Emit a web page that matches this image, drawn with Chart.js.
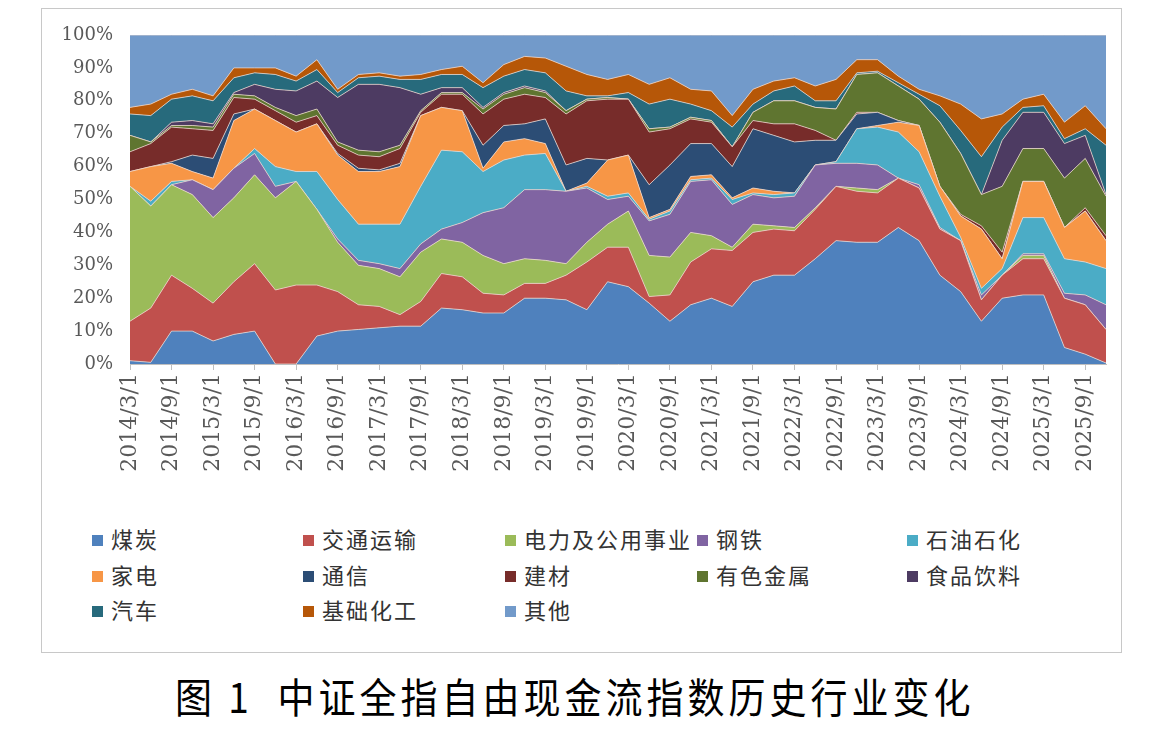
<!DOCTYPE html>
<html>
<head>
<meta charset="utf-8">
<script src="https://cdn.jsdelivr.net/npm/chart.js@4.4.0/dist/chart.umd.min.js"></script>
<style>
    body {
        margin: 0;
        width: 1168px;
        height: 729px;
        background: #ffffff;
        position: relative;
        overflow: hidden;
        font-family: "Noto Sans CJK SC", sans-serif;
    }
    #frame {
        position: absolute;
        left: 41px;
        top: 8px;
        width: 1079px;
        height: 643px;
        border: 1px solid #c8c8c8;
    }
    #wrap {
        position: absolute;
        left: 0;
        top: 0;
        width: 1168px;
        height: 500px;
    }
    .item {
        position: absolute;
        font-size: 22px;
        line-height: 26px;
        color: #333333;
        white-space: nowrap;
        letter-spacing: 2px;
    }
    .item i {
        display: inline-block;
        width: 11px;
        height: 11px;
        margin-right: 8px;
        vertical-align: 2px;
    }
    #title {
        position: absolute;
        left: 175px;
        top: 668px;
        font-size: 37px;
        letter-spacing: 4px;
        color: #000000;
        white-space: pre;
        transform: scaleY(1.12);
    }
</style>
</head>
<body>
<div id="frame"></div>
<div id="wrap"><canvas id="industryChart"></canvas></div>
<div id="legend"></div>
<div id="title">图 1  中证全指自由现金流指数历史行业变化</div>

<script>
// =========================================
// Data (quarterly weights, %)
// =========================================

const dates = [
    "2014/3/1", "2014/6/1", "2014/9/1", "2014/12/1",
    "2015/3/1", "2015/6/1", "2015/9/1", "2015/12/1",
    "2016/3/1", "2016/6/1", "2016/9/1", "2016/12/1",
    "2017/3/1", "2017/6/1", "2017/9/1", "2017/12/1",
    "2018/3/1", "2018/6/1", "2018/9/1", "2018/12/1",
    "2019/3/1", "2019/6/1", "2019/9/1", "2019/12/1",
    "2020/3/1", "2020/6/1", "2020/9/1", "2020/12/1",
    "2021/3/1", "2021/6/1", "2021/9/1", "2021/12/1",
    "2022/3/1", "2022/6/1", "2022/9/1", "2022/12/1",
    "2023/3/1", "2023/6/1", "2023/9/1", "2023/12/1",
    "2024/3/1", "2024/6/1", "2024/9/1", "2024/12/1",
    "2025/3/1", "2025/6/1", "2025/9/1", "2025/12/1"
];

const yTicks = [0, 10, 20, 30, 40, 50, 60, 70, 80, 90, 100];

const coal = [1, 0.5, 10, 10, 7, 9, 10, 0, 0, 8.5, 10, 10.5, 11, 11.5, 11.5, 17, 16.5, 15.5, 15.5, 20, 20, 19.5, 16.5, 25, 23.5, 18.5, 13, 18, 20, 17.5, 25, 27, 27, 32, 37.5, 37, 37, 41.5, 37.5, 27, 22, 13, 20, 21, 21, 5, 3, 0.3];
const transport = [12, 16.5, 17, 13, 11.5, 16, 20.5, 22.5, 24, 15.5, 12, 7.5, 6.5, 3.5, 7.5, 10.5, 10, 6, 5.5, 4.5, 4.5, 7.5, 14.5, 10.5, 12, 2, 8, 13, 15, 17, 15, 14, 13.5, 15, 16.5, 15.5, 15, 15, 16, 14, 15.5, 6.5, 7, 11, 11, 15, 15, 10.2];
const utilities = [41, 31, 27.5, 28.5, 26, 25.5, 27, 28, 31.5, 23, 15, 12, 11.5, 11.5, 15, 10.5, 10.5, 11.5, 9.5, 7.5, 7, 3.5, 6, 7, 11, 12.5, 11.5, 9, 4, 1, 2.5, 1, 1, 0.5, 0, 1, 1, 0, 0, 0, 0, 0, 0, 1, 1, 0, 0, 0];
const steel = [0, 0, 0, 4.5, 8.5, 9, 6.5, 3.5, 0, 0, 1, 1.5, 1.5, 2.5, 2.5, 3, 6, 13, 17, 21, 21.5, 22, 16.5, 7.5, 4.5, 10.5, 13, 15.5, 17, 13, 9, 8.5, 9.5, 13, 7, 7.5, 7.5, 0, 1, 0.5, 0, 1.5, 0, 0.5, 0.5, 1.5, 3, 7.5];
const petro = [0, 1.5, 1, 0, 0, 0, 1.5, 6, 3, 11.5, 12, 11, 12, 13.5, 17.5, 24, 21.5, 12.5, 14.5, 10.5, 11, 0, 0.5, 1, 1, 0.5, 1, 0.5, 0.5, 1.5, 0.5, 1, 1, 0, 0.5, 10.5, 11.5, 14, 10, 9.5, 1, 2, 2, 11, 11, 10.5, 10, 11];
const appliances = [4.5, 10.5, 5.5, 2.5, 3.5, 14.5, 12, 14, 12, 14.5, 13.5, 16, 16, 17.5, 21.5, 13, 12.5, 1, 5.5, 5, 3, 0, 1, 11, 11.5, 0.5, 0.5, 1, 1, 0.5, 1.5, 1, 0, 0, 0, 0, 0.5, 3, 8, 3, 6.5, 18, 3, 11, 11, 9.5, 15.5, 8.5];
const telecom = [0, 0, 0.5, 5, 6, 2, 0, 0, 0, 0, 0.5, 1, 0.5, 1, 0, 0, 0, 7, 5, 4.5, 7.5, 8, 7.5, 0, 0, 10, 13.5, 10, 9.5, 9.5, 18, 17, 15.5, 7.5, 6.5, 4.5, 4, 0.5, 0, 0, 0, 0, 0, 0, 0, 0, 0, 0];
const buildMat = [6, 7, 10.5, 8, 8.5, 5, 3, 3, 3, 2.5, 2.5, 4, 4, 4.5, 1, 4, 5, 9.5, 8, 9, 6.5, 15.5, 17.5, 18.5, 17, 16, 11, 7.5, 6.5, 6, 2.5, 3.5, 5.5, 3, 0, 0.5, 0, 0, 0, 0, 0.5, 1, 2, 0, 0, 0, 1, 1.5];
const metals = [5, 0.5, 0.5, 1, 1, 1, 1, 1, 2, 2, 1, 1.5, 1.5, 1, 0.5, 0.5, 0.5, 1.5, 1.5, 2, 1.5, 1, 0.5, 0.5, 0, 1, 0.5, 0.5, 0.5, 0, 2.5, 7, 7, 7, 9.5, 11.5, 12, 10.5, 8, 19.5, 18.5, 9.5, 20, 10, 10, 15, 15, 12];
const food = [0, 0, 1, 1.5, 1, 0.5, 3.5, 5.5, 7.5, 8.5, 13.5, 20, 20.5, 17.5, 5, 1.5, 1.5, 0.5, 0.5, 0.5, 0.5, 0, 0, 0, 0, 0, 0, 0, 0, 0, 0, 0, 0, 0, 0, 0, 0, 0, 0, 0, 0, 0, 14, 11, 11, 10.5, 7, 0.5];
const autos = [6.5, 8, 7, 7.5, 7, 4.5, 3.5, 4.5, 3, 3.5, 1.5, 2, 2.5, 2.5, 4.5, 4, 4, 6, 5, 5, 5.5, 6, 1, 0.5, 2, 7.5, 8.5, 4, 3, 6, 2.5, 3, 4.5, 2, 2.5, 0.5, 0.5, 1, 1.5, 5, 7, 11.5, 4, 1.5, 2, 1.5, 2, 15];
const chemicals = [2, 3.5, 1.5, 2, 1.5, 3, 1.5, 2, 1.5, 3, 1, 1, 1, 1, 1.5, 1.5, 2.5, 1.5, 3.5, 4, 4.5, 7.5, 6.5, 5, 5.5, 6, 6.5, 4.5, 6, 3.5, 4.5, 3, 2.5, 4.5, 6.5, 4, 3.5, 2, 1.5, 3, 8, 11.5, 4, 2.5, 3.5, 5, 7, 5];
const others = [22, 21, 18, 16.5, 18.5, 10, 10, 10, 12.5, 7.5, 16.5, 12, 11.5, 12.5, 12, 10.5, 9.5, 14.5, 9, 6.5, 7, 9.5, 12, 13.5, 12, 15, 13, 16.5, 17, 24.5, 16.5, 14, 13, 15.5, 13.5, 7.5, 7.5, 12.5, 16.5, 18.5, 21, 25.5, 24, 19.5, 18, 26.5, 21.5, 28.5];

const seriesNames = [
    "煤炭", "交通运输", "电力及公用事业", "钢铁", "石油石化",
    "家电", "通信", "建材", "有色金属", "食品饮料",
    "汽车", "基础化工", "其他"
];

const seriesData = [
    coal, transport, utilities, steel, petro,
    appliances, telecom, buildMat, metals, food,
    autos, chemicals, others
];

const seriesColors = [
    "#4F81BD", "#C0504D", "#9BBB59", "#8064A2", "#4BACC6",
    "#F79646", "#2C4D75", "#772C2A", "#5F7530", "#4D3B62",
    "#276A7C", "#B65708", "#729ACA"
];


// =========================================
// Chart
// =========================================

const datasets = seriesNames.map((name, i) => ({
    label: name,
    data: seriesData[i],
    backgroundColor: seriesColors[i],
    borderColor: "rgba(238, 218, 208, 0.75)",
    borderWidth: 1,
    pointRadius: 0,
    tension: 0,
    fill: i === 0 ? "origin" : "-1"
}));

new Chart(document.getElementById("industryChart"), {

    type: "line",

    data: {
        labels: dates,
        datasets: datasets
    },

    options: {

        responsive: true,
        maintainAspectRatio: false,
        animation: false,

        layout: {
            padding: { left: 50, right: 62, top: 35, bottom: 26 }
        },

        plugins: {
            legend: { display: false },
            tooltip: { enabled: false }
        },

        scales: {

            x: {
                offset: false,
                grid: {
                    drawOnChartArea: false,
                    drawTicks: true,
                    tickLength: 6,
                    color: (ctx) => ctx.index % 2 === 0 ? "#bfbfbf" : "rgba(0,0,0,0)"
                },
                border: { display: true, color: "#bfbfbf" },
                ticks: {
                    autoSkip: false,
                    minRotation: 90,
                    maxRotation: 90,
                    padding: 3,
                    color: "#595959",
                    font: { family: "'DejaVu Serif'", size: 22 },
                    // only March and September get a label
                    callback: function (value, index) {
                        return index % 2 === 0 ? this.getLabelForValue(value) : "";
                    }
                },
                afterFit: (scale) => { scale.height = 110; }
            },

            y: {
                stacked: true,
                min: 0,
                max: 100,
                grid: { display: false, drawTicks: false },
                border: { display: false },
                afterBuildTicks: (scale) => {
                    scale.ticks = yTicks.map(v => ({ value: v }));
                },
                ticks: {
                    padding: 17,
                    color: "#595959",
                    font: { family: "'DejaVu Serif'", size: 18 },
                    callback: (value) => value + "%"
                },
                afterFit: (scale) => { scale.width = 80; }
            }
        }
    }
});


// =========================================
// Legend
// =========================================

const legendCols = [92, 303, 505, 697, 907];
const legendRows = [525, 561, 596];

const legend = document.getElementById("legend");

seriesNames.forEach((name, i) => {

    const item = document.createElement("div");

    item.className = "item";
    item.style.left = legendCols[i % 5] + "px";
    item.style.top = legendRows[Math.floor(i / 5)] + "px";
    item.innerHTML = '<i style="background:' + seriesColors[i] + '"></i>' + name;

    legend.appendChild(item);

});
</script>
</body>
</html>
